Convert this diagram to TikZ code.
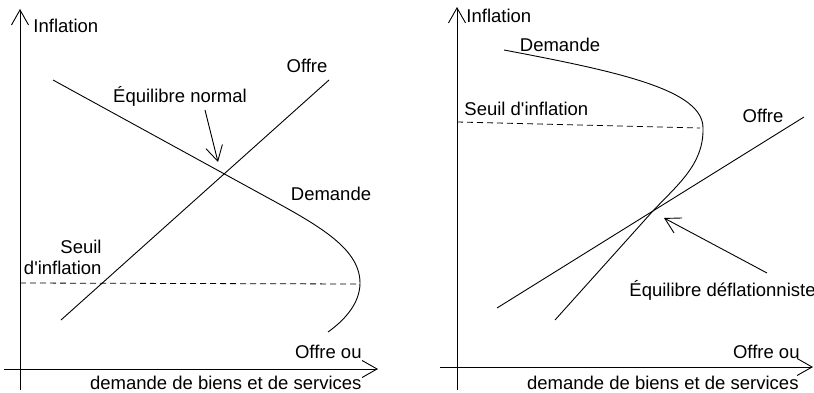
\documentclass[tikz,border=0pt]{standalone}
\usepackage{fontspec}
\setmainfont{Liberation Sans}[Ligatures=TeXOff]
\usetikzlibrary{arrows.meta}

\begin{document}
\begin{tikzpicture}[x=1pt,y=-1pt,line width=0.9pt,
    barb/.style={-{Straight Barb[length=15pt,width=17pt]}},
    seuil/.style={dash pattern=on 6pt off 4pt,line width=0.8pt},
    every node/.style={font=\fontsize{18.5}{21}\selectfont,inner sep=0pt}]
    \useasboundingbox (0,0) rectangle (814,393);

    % panneau gauche
    \coordinate (Y1a) at (20,390);
    \coordinate (Y1) at (20,9);
    \coordinate (X1a) at (4,369);
    \coordinate (X1) at (378,369);
    \begin{scope}[barb]
        \draw (Y1a) -- (Y1);
        \draw (X1a) -- (X1);
    \end{scope}

    \coordinate (D1) at (53,80);
    \coordinate (D2) at (250,188);
    \coordinate (D3) at (360,283);
    \coordinate (D4) at (328,332);
    \coordinate (S1) at (61,320);
    \coordinate (S2) at (329,80);
    \coordinate (E1) at (218,162);
    \coordinate (E1a) at (205,110);
    \coordinate (T1a) at (20,283);
    \coordinate (T1b) at (356,284);

    \draw (D1) -- (D2) .. controls (310,221) and (360,245) .. (D3)
        .. controls (360,305) and (342,322) .. (D4);
    \draw (S1) -- (S2);
    \draw[seuil] (T1a) -- (T1b);
    \draw[barb] (E1a) -- (E1);

    \node (inf1) [anchor=west] at (33,26) {Inflation};
    \node (offre1) at (307,66) {Offre};
    \node (normal) at (180,96) {Équilibre normal};
    \node (dem1) at (331,194) {Demande};
    \node (seuil1) [anchor=east,align=right] at (102,257) {Seuil\\d'inflation};
    \begin{scope}[anchor=east]
        \node (ou1) at (362,352) {Offre ou};
        \node (biens1) at (362,383) {demande de biens et de services};
    \end{scope}

    % panneau droit
    \coordinate (Y2a) at (457,390);
    \coordinate (Y2) at (457,7);
    \coordinate (X2a) at (440,367);
    \coordinate (X2) at (813,367);
    \begin{scope}[barb]
        \draw (Y2a) -- (Y2);
        \draw (X2a) -- (X2);
    \end{scope}

    \coordinate (D5) at (504,50);
    \coordinate (D6) at (703,128);
    \coordinate (E2) at (652,212);
    \coordinate (D7) at (555,320);
    \coordinate (S3) at (497,308);
    \coordinate (S4) at (804,117);
    \coordinate (F2) at (664,218);
    \coordinate (F2a) at (767,273);
    \coordinate (T2a) at (457,122);
    \coordinate (T2b) at (700,128);

    \draw (D5) .. controls (620,72) and (703,90) .. (D6)
        .. controls (704,165) and (676,186) .. (E2) -- (D7);
    \draw (S3) -- (S4);
    \draw[seuil] (T2a) -- (T2b);
    \draw[barb] (F2a) -- (F2);

    \node (inf2) [anchor=west] at (466,16) {Inflation};
    \node (dem2) at (560,45) {Demande};
    \node (seuil2) [anchor=west] at (464,109) {Seuil d'inflation};
    \node (offre2) at (763,116) {Offre};
    \node (defl) [anchor=west] at (629,290) {Équilibre déflationniste};
    \begin{scope}[anchor=east]
        \node (ou2) at (800,352) {Offre ou};
        \node (biens2) at (799,383) {demande de biens et de services};
    \end{scope}
\end{tikzpicture}
\end{document}
